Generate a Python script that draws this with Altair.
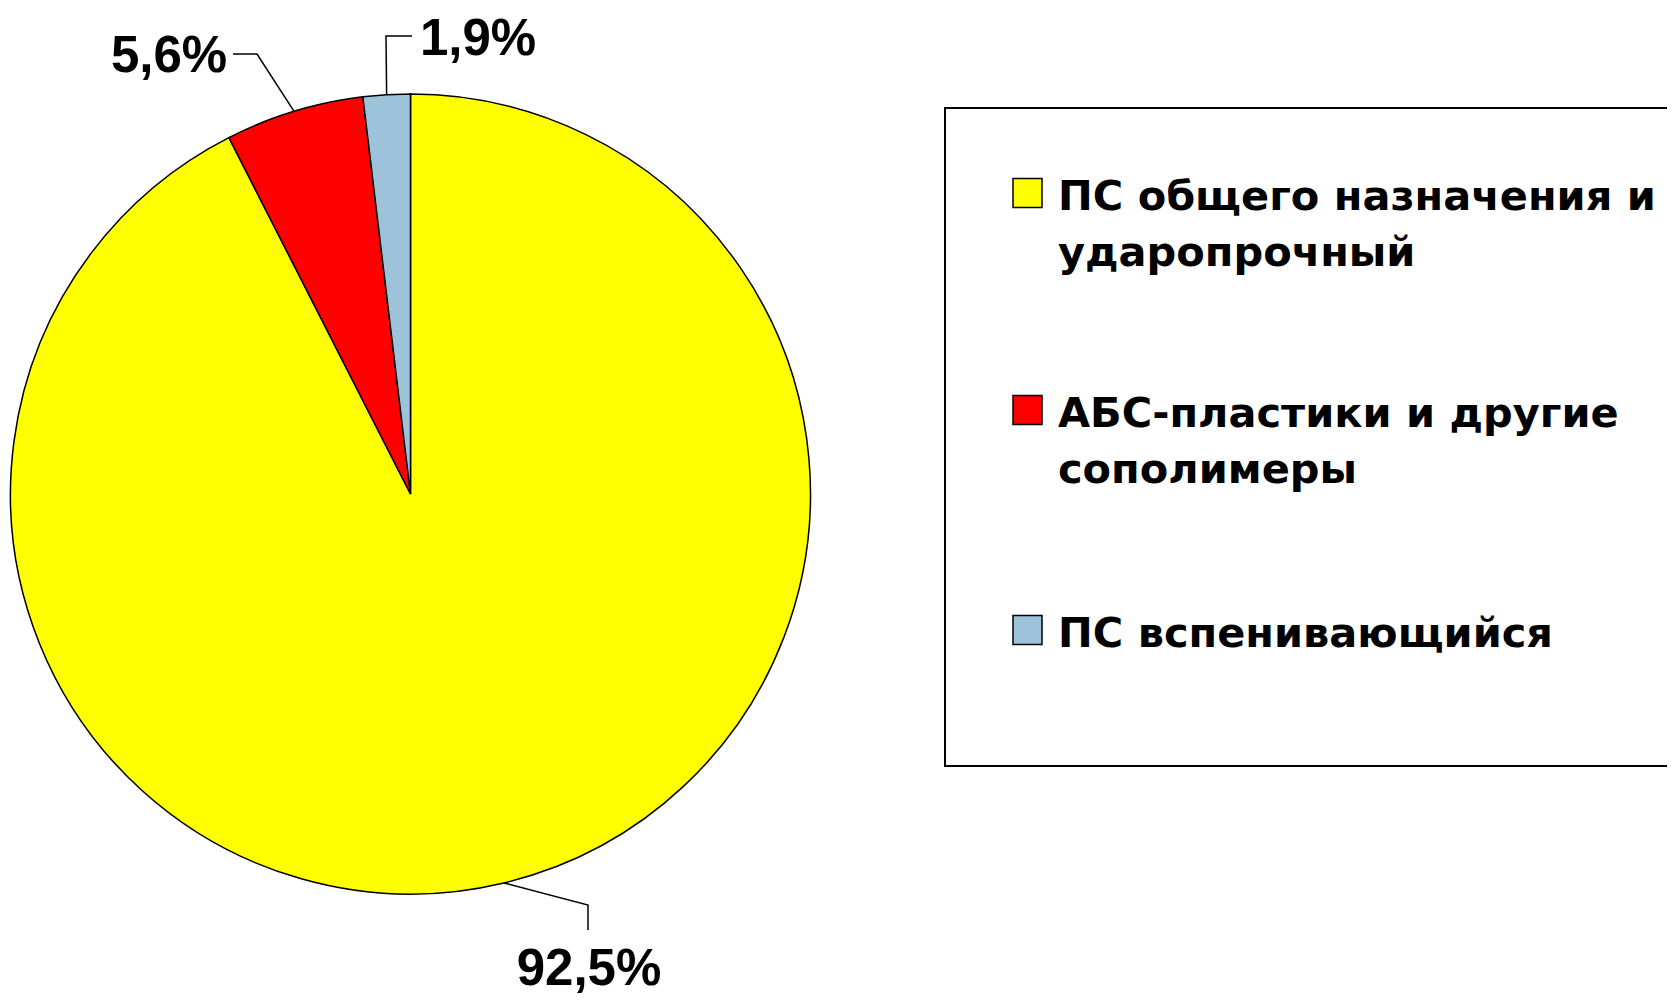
import math
import altair as alt
import pandas as pd

# ---------------- data ----------------
categories = [
    "ПС общего назначения и ударопрочный",
    "АБС-пластики и другие сополимеры",
    "ПС вспенивающийся",
]
legend_text = [
    "ПС общего назначения и\nударопрочный",
    "АБС-пластики и другие\nсополимеры",
    "ПС вспенивающийся",
]
shares = [92.5, 5.6, 1.9]
share_labels = ["92,5%", "5,6%", "1,9%"]
colors = ["#FFFF00", "#FF0000", "#9DC3DA"]

# ---------------- layout (pixels inside the chart) ----------------
W, H = 1659, 986
CX, CY, R = 402.5, 486, 400
# label text anchor (center x, baseline y) and leader elbow/end points
LABEL_POS = [(581, 977), (161, 64), (470, 47)]
LEADER_PTS = [[(580, 897), (580, 922)], [(249, 46), (225, 46)], [(378, 28), (404, 28)]]
LEG_BOX = (937, 100, 758)
LEG_SYM_X, LEG_TXT_X = 1019.5, 1050
LEG_ROW_Y = [185, 402, 622]

df = pd.DataFrame({"cat": categories, "share": shares, "idx": range(3)})

# leader lines: start on the rim at each slice's mid angle
rows = []
cum = 0.0
total = sum(shares)
for i, (c, s) in enumerate(zip(categories, shares)):
    mid = (cum + s / 2) / total * 2 * math.pi
    cum += s
    ex, ey = CX + R * math.sin(mid), CY - R * math.cos(mid)
    pts = [(ex, ey)] + LEADER_PTS[i]
    for k, (px, py) in enumerate(pts):
        rows.append({"cat": c, "k": k, "px": px, "py": py})
lead_df = pd.DataFrame(rows)

lab_df = pd.DataFrame({
    "label": share_labels,
    "px": [p[0] for p in LABEL_POS],
    "py": [p[1] for p in LABEL_POS],
})

leg_df = pd.DataFrame({
    "cat": categories,
    "text": legend_text,
    "sx": [LEG_SYM_X] * 3,
    "tx": [LEG_TXT_X] * 3,
    "sy": LEG_ROW_Y,
    "ty": [y + 17 for y in LEG_ROW_Y],
})

box_df = pd.DataFrame({"x": [LEG_BOX[0]], "x2": [W + 40], "y": [LEG_BOX[1]], "y2": [LEG_BOX[2]]})

xs = alt.Scale(domain=[0, W], range=[0, W], nice=False, zero=False)
ys = alt.Scale(domain=[0, H], range=[0, H], nice=False, zero=False)
color_scale = alt.Scale(domain=categories, range=colors)

pie = alt.Chart(df).mark_arc(radius=R, stroke="black", strokeWidth=1.5).encode(
    theta=alt.Theta("share:Q", stack=True),
    color=alt.Color("cat:N", scale=color_scale, legend=None),
    order=alt.Order("idx:Q", sort="ascending"),
    x=alt.value(CX),
    y=alt.value(CY),
)

leaders = alt.Chart(lead_df).mark_line(color="black", strokeWidth=1.5).encode(
    x=alt.X("px:Q", scale=xs, axis=None),
    y=alt.Y("py:Q", scale=ys, axis=None),
    detail="cat:N",
    order="k:Q",
)

labels = alt.Chart(lab_df).mark_text(
    font="Liberation Sans", fontWeight="bold", fontSize=51,
    align="center", baseline="alphabetic", color="black",
).encode(
    x=alt.X("px:Q", scale=xs, axis=None),
    y=alt.Y("py:Q", scale=ys, axis=None),
    text="label:N",
)

box = alt.Chart(box_df).mark_rect(
    fill="white", stroke="black", strokeWidth=2, clip=True
).encode(
    x=alt.X("x:Q", scale=xs, axis=None), x2="x2:Q",
    y=alt.Y("y:Q", scale=ys, axis=None), y2="y2:Q",
)

symbols = alt.Chart(leg_df).mark_square(
    size=841, stroke="black", strokeWidth=1.5, opacity=1
).encode(
    x=alt.X("sx:Q", scale=xs, axis=None),
    y=alt.Y("sy:Q", scale=ys, axis=None),
    color=alt.Color("cat:N", scale=color_scale, legend=None),
)

leg_text = alt.Chart(leg_df).mark_text(
    font="DejaVu Sans", fontWeight="bold", fontSize=41.5, lineBreak="\n",
    lineHeight=56, align="left", baseline="alphabetic", color="black",
).encode(
    x=alt.X("tx:Q", scale=xs, axis=None),
    y=alt.Y("ty:Q", scale=ys, axis=None),
    text="text:N",
)

chart = alt.layer(box, pie, leaders, labels, symbols, leg_text).properties(
    width=W, height=H, autosize="none", padding=0,
).configure_view(stroke=None)

chart.save("out.html", embed_options={"renderer": "svg", "actions": False})
